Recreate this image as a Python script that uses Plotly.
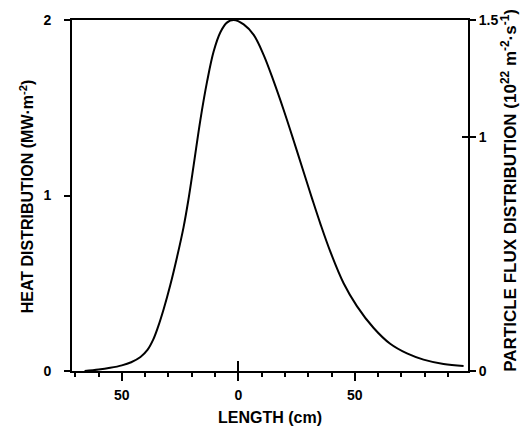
import plotly.graph_objects as go

# Data (length in cm, heat distribution in MW/m^2)
length_cm = [-66, -60, -55, -50, -46, -42, -39, -36.5, -34.5, -32, -29.2, -26.3, -23.5, -21.5,
             -19.2, -16.3, -13.4, -10.6, -7.7, -4.9, -2, 2.3, 6.6, 10.9, 15.2, 19.4,
             23.7, 28, 31.6, 35.2, 39.5, 45.2, 50.9, 58.1, 65.2, 72.4, 79.5, 88.1, 96.7]
heat = [0.0, 0.008, 0.018, 0.032, 0.05, 0.08, 0.12, 0.18, 0.25, 0.355, 0.49, 0.65, 0.82, 0.97,
        1.17, 1.43, 1.65, 1.82, 1.93, 1.985, 2.0, 1.975, 1.915, 1.80, 1.65, 1.49,
        1.315, 1.135, 0.985, 0.84, 0.68, 0.50, 0.37, 0.245, 0.155, 0.10, 0.065, 0.04, 0.028]

x_tickvals = [-50, 0, 50]
x_ticktext = ["50", "0", "50"]
heat_ticks = [0, 1, 2]
flux_ticks = [0, 1, 1.5]
flux_ticktext = ["0", "1", "1.5"]

FONT = "Liberation Sans"
tf = dict(family=FONT, size=14, color="black", weight="bold")
ttl = dict(family=FONT, size=16, color="black", weight="bold")
ttl_r = dict(family=FONT, size=17, color="black", weight="bold")

fig = go.Figure()
fig.add_trace(go.Scatter(x=length_cm, y=heat, mode="lines",
                         line=dict(color="black", width=2, shape="spline", smoothing=1),
                         showlegend=False, hoverinfo="skip"))
# invisible helper traces so the extra axes render
fig.add_trace(go.Scatter(x=[length_cm[0]], y=[0], yaxis="y2", mode="lines", line=dict(width=0),
                         showlegend=False, hoverinfo="skip"))
fig.add_trace(go.Scatter(x=[length_cm[0]], y=[0], xaxis="x2", yaxis="y3", mode="lines",
                         line=dict(width=0), showlegend=False, hoverinfo="skip"))

xr = [-71.4, 98.6]
fig.update_layout(
    width=520, height=430,
    margin=dict(l=72, r=52, t=15, b=59),
    paper_bgcolor="white", plot_bgcolor="white",
    xaxis=dict(range=xr, tickvals=x_tickvals, ticktext=x_ticktext, ticks="outside", ticklen=8,
               tickwidth=2, tickcolor="black", tickfont=tf, showgrid=False, zeroline=False,
               showline=True, linecolor="black", linewidth=2, mirror=True, ticklabelstandoff=2,
               minor=dict(dtick=10, tick0=0, ticks="outside", ticklen=4, tickwidth=1.5,
                          tickcolor="black", showgrid=False)),
    xaxis2=dict(range=xr, overlaying="x", side="bottom", anchor="y", tickvals=[0], ticks="inside",
                ticklen=10, tickwidth=2, tickcolor="black", showticklabels=False, showgrid=False,
                zeroline=False, showline=False, layer="above traces"),
    yaxis=dict(range=[0, 2], tickvals=heat_ticks, ticks="outside", ticklen=6, tickwidth=2,
               tickcolor="black", tickfont=tf, showgrid=False, zeroline=False, showline=True,
               linecolor="black", linewidth=2, ticklabelstandoff=10),
    yaxis2=dict(range=[0, 1.5], overlaying="y", side="right", anchor="x", tickvals=flux_ticks,
                ticktext=flux_ticktext, ticks="outside", ticklen=6, tickwidth=2, tickcolor="black",
                tickfont=tf, showgrid=False, zeroline=False, showline=True, linecolor="black",
                linewidth=2),
    yaxis3=dict(range=[0, 1.5], overlaying="y", side="right", anchor="x", tickvals=flux_ticks,
                ticks="inside", ticklen=6, tickwidth=2, tickcolor="black", showticklabels=False,
                showgrid=False, zeroline=False, showline=False, layer="above traces"),
    annotations=[
        dict(text="HEAT DISTRIBUTION (MW·m<sup>-2</sup>)", xref="paper", yref="paper",
             x=-0.115, y=0.499, textangle=-90, showarrow=False, font=ttl,
             xanchor="center", yanchor="middle"),
        dict(text="PARTICLE FLUX DISTRIBUTION (10<sup>22</sup> m<sup>-2</sup>·s<sup>-1</sup>)",
             xref="paper", yref="paper", x=1.105, y=0.515, textangle=-90, showarrow=False,
             font=ttl_r, xanchor="center", yanchor="middle"),
        dict(text="LENGTH (cm)", xref="paper", yref="paper", x=0.5, y=-0.133, showarrow=False,
             font=ttl, xanchor="center", yanchor="middle"),
    ],
)

fig.write_html("out.html")
